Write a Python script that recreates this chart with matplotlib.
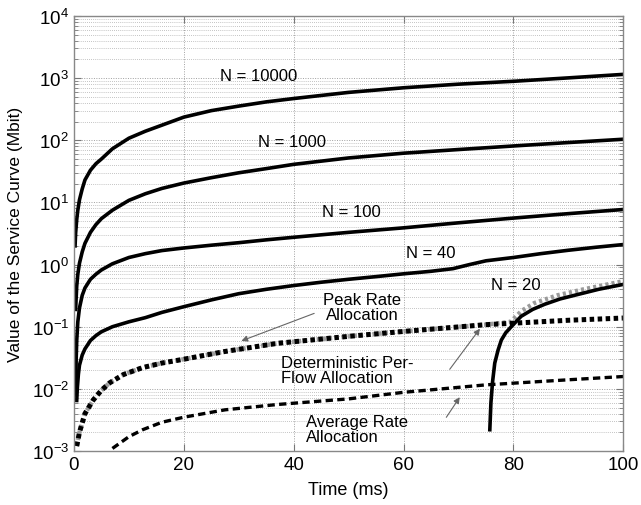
import matplotlib
matplotlib.use("Agg")
import matplotlib.pyplot as plt
from matplotlib.ticker import LogLocator, FixedLocator, NullFormatter

plt.rcParams["font.family"] = ["Liberation Sans", "DejaVu Sans"]
plt.rcParams["mathtext.fontset"] = "custom"
plt.rcParams["mathtext.rm"] = "Liberation Sans"
plt.rcParams["mathtext.default"] = "regular"

# service curves (time in ms, value in Mbit)
t_n10000 = [0.2, 0.3, 0.5, 0.7, 1, 1.5, 2, 3, 4, 5, 7, 10, 13, 16, 20, 25, 30, 35, 40, 50, 60, 70, 80, 90, 100]
v_n10000 = [2.0, 3.2, 5.3, 7.5, 11, 16.5, 23, 33, 42, 50, 73, 108, 140, 175, 236, 300, 355, 415, 470, 590, 700, 800, 890, 1010, 1150]

t_n1000 = [0.3, 0.5, 0.7, 1, 1.5, 2, 3, 4, 5, 7, 10, 13, 16, 20, 25, 30, 35, 40, 50, 60, 70, 80, 90, 100]
v_n1000 = [0.19, 0.45, 0.7, 1.05, 1.6, 2.2, 3.3, 4.4, 5.5, 7.5, 10.8, 13.8, 16.8, 20.5, 25, 30, 35, 41, 52, 62, 71, 81, 92, 104]

t_n100 = [0.3, 0.4, 0.5, 0.7, 1, 1.5, 2, 3, 4, 5, 7, 10, 13, 16, 20, 25, 30, 35, 40, 50, 60, 70, 80, 90, 100]
v_n100 = [0.008, 0.03, 0.06, 0.12, 0.2, 0.32, 0.42, 0.58, 0.7, 0.82, 1.03, 1.3, 1.5, 1.68, 1.85, 2.05, 2.25, 2.5, 2.75, 3.3, 3.9, 4.7, 5.6, 6.6, 7.7]

t_n40 = [0.5, 0.6, 0.8, 1, 1.5, 2, 3, 4, 5, 7, 10, 13, 16, 20, 25, 30, 35, 40, 45, 50, 55, 60, 65, 69, 72, 75, 80, 85, 90, 95, 100]
v_n40 = [0.0065, 0.01, 0.017, 0.024, 0.035, 0.044, 0.06, 0.072, 0.083, 0.1, 0.12, 0.14, 0.17, 0.21, 0.27, 0.34, 0.40, 0.46, 0.52, 0.58, 0.64, 0.71, 0.78, 0.86, 1.0, 1.15, 1.3, 1.5, 1.7, 1.9, 2.1]

t_n20 = [75.7, 75.9, 76.2, 76.6, 77.2, 77.8, 78.6, 79.6, 81.4, 83.5, 85.7, 88.5, 91.7, 95.5, 100]
v_n20 = [0.0022, 0.006, 0.013, 0.026, 0.042, 0.061, 0.08, 0.1, 0.147, 0.19, 0.23, 0.28, 0.33, 0.4, 0.48]

t_peak = [0.5, 1, 2, 3.5, 5, 6.5, 9, 12.5, 16, 20, 27.5, 37, 50, 60, 75, 90, 100]
v_peak = [0.0012, 0.002, 0.004, 0.0066, 0.0095, 0.0125, 0.017, 0.022, 0.026, 0.03, 0.04, 0.054, 0.07, 0.084, 0.108, 0.127, 0.138]

t_det = [0.5, 1, 2, 3.5, 5, 6.5, 9, 12.5, 16, 20, 27.5, 37, 50, 60, 75, 79.5, 81.5, 83.8, 88, 92.8, 100]
v_det = [0.0012, 0.002, 0.004, 0.0066, 0.0095, 0.0125, 0.017, 0.022, 0.026, 0.03, 0.04, 0.054, 0.07, 0.084, 0.108, 0.12, 0.18, 0.24, 0.32, 0.4, 0.54]

t_avg = [7, 10, 12.5, 16, 20, 27.5, 37, 50, 60, 75, 90, 100]
v_avg = [0.0011, 0.0017, 0.0022, 0.0029, 0.0035, 0.0046, 0.0056, 0.0069, 0.0088, 0.0116, 0.014, 0.0158]

x_ticks = [0, 20, 40, 60, 80, 100]

fig = plt.figure(figsize=(6.41, 5.06), dpi=100)
ax = fig.add_axes([0.1154, 0.1067, 0.857, 0.8597])

lw = 2.6
ax.semilogy(t_n10000, v_n10000, color="black", lw=lw)
ax.semilogy(t_n1000, v_n1000, color="black", lw=lw)
ax.semilogy(t_n100, v_n100, color="black", lw=lw)
ax.semilogy(t_n40, v_n40, color="black", lw=lw)
ax.semilogy(t_det, v_det, color="#9a9a9a", lw=3.2, dashes=(0.7, 0.7))
ax.semilogy(t_peak, v_peak, color="black", lw=3.6, dashes=(0.9, 0.7))
ax.semilogy(t_n20, v_n20, color="black", lw=lw)
ax.semilogy(t_avg, v_avg, color="black", lw=2.4, dashes=(2.2, 1.3))

ax.set_xlim(0, 100)
ax.set_ylim(1e-3, 1e4)
ax.xaxis.set_major_locator(FixedLocator(x_ticks))
ax.yaxis.set_major_locator(LogLocator(base=10, numticks=20))
ax.yaxis.set_minor_locator(LogLocator(base=10, subs=range(2, 10), numticks=100))
ax.yaxis.set_minor_formatter(NullFormatter())

ax.grid(True, which="major", color="#a0a0a0", ls=(0, (1, 1.5)), lw=0.7)
ax.grid(True, which="minor", axis="y", color="#b0b0b0", ls=(0, (1, 1.5)), lw=0.6)
ax.tick_params(which="both", direction="in", top=True, right=True, colors="#777777",
               labelcolor="black", labelsize=13.5)
ax.tick_params(which="major", length=5)
ax.tick_params(which="minor", length=3)
for s in ax.spines.values():
    s.set_color("#888888")
    s.set_linewidth(1.0)

ax.set_xlabel("Time (ms)", fontsize=13, labelpad=6)
ax.set_ylabel("Value of the Service Curve (Mbit)", fontsize=12.5, labelpad=6)

fs = 12
ax.text(33.7, 1120, "N = 10000", fontsize=fs, ha="center", va="center")
ax.text(39.7, 96, "N = 1000", fontsize=fs, ha="center", va="center")
ax.text(50.5, 7.2, "N = 100", fontsize=fs, ha="center", va="center")
ax.text(65.0, 1.55, "N = 40", fontsize=fs, ha="center", va="center")
ax.text(80.4, 0.48, "N = 20", fontsize=fs, ha="center", va="center")
ax.text(52.5, 0.21, "Peak Rate\nAllocation", fontsize=fs, ha="center", va="center",
        multialignment="center", linespacing=1.0)
ax.text(37.7, 0.02, "Deterministic Per-\nFlow Allocation", fontsize=fs, ha="left", va="center",
        linespacing=1.0)
ax.text(42.2, 0.00222, "Average Rate\nAllocation", fontsize=fs, ha="left", va="center",
        linespacing=1.0)

arrow = dict(arrowstyle="-|>", color="#666666", lw=0.8, mutation_scale=9)
ax.annotate("", xy=(30.0, 0.057), xytext=(44.2, 0.17), arrowprops=arrow)
ax.annotate("", xy=(74.2, 0.101), xytext=(68.1, 0.019), arrowprops=arrow)
ax.annotate("", xy=(70.5, 0.008), xytext=(67.5, 0.0032), arrowprops=arrow)

fig.savefig("out.png", dpi=100)
